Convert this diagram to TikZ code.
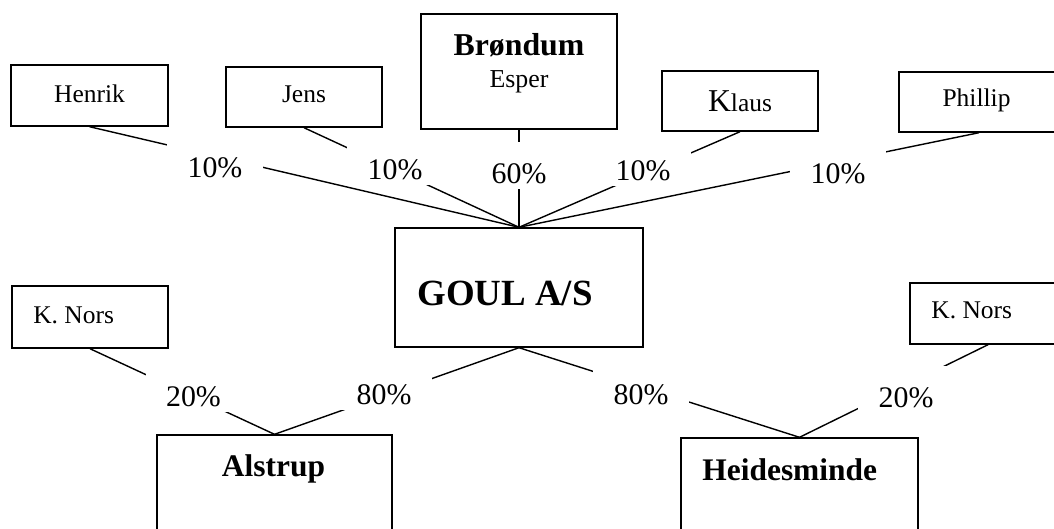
\documentclass[tikz,border=0pt]{standalone}
\usepackage{fontspec}
\setmainfont{Liberation Serif}

\begin{document}
\begin{tikzpicture}[
  cell/.style={draw, line width=0.8pt, inner sep=0pt},
  person/.style={inner sep=0pt, anchor=base, font=\fontsize{14.5}{17}\selectfont},
  firm/.style={inner sep=0pt, anchor=base, font=\fontsize{17.9}{21}\selectfont\bfseries},
  pct/.style={fill=white, inner sep=0pt, minimum width=1.92cm,
    text height=0.82cm, text depth=0.12cm, font=\fontsize{17}{20}\selectfont},
  link/.style={line width=0.8pt}
]
\useasboundingbox (0,0) rectangle (21.08,-10.56);

% Owners
\node[cell, minimum width=3.14cm, minimum height=1.22cm] (henrik) at (1.79,-1.91) {};
\node[cell, minimum width=3.12cm, minimum height=1.20cm] (jens) at (6.08,-1.94) {};
\node[cell, minimum width=3.92cm, minimum height=2.30cm] (brondum) at (10.38,-1.43) {};
\node[cell, minimum width=3.12cm, minimum height=1.20cm] (klaus) at (14.80,-2.02) {};
\node[cell, minimum width=3.20cm, minimum height=1.20cm] (phillip) at (19.58,-2.04) {};

\node[person] (tHenrik) at (1.79,-2.04) {Henrik};
\node[person] (tJens) at (6.08,-2.04) {Jens};
\node[firm, font=\fontsize{18.1}{21}\selectfont\bfseries] (tBrondum) at (10.38,-1.10) {Brøndum};
\node[person, font=\fontsize{14.7}{17}\selectfont] (tEsper) at (10.38,-1.74) {Esper};
\node[person] (tKlaus) at (14.80,-2.23) {{\fontsize{18.1}{21}\selectfont K}laus};
\node[person] (tPhillip) at (19.53,-2.12) {Phillip};

% Holding
\node[cell, minimum width=4.96cm, minimum height=2.38cm] (goul) at (10.38,-5.75) {};
\node[firm, anchor=base west, font=\fontsize{21}{25}\selectfont\bfseries] (tGoul) at (8.34,-6.10) {GOUL A/S};

% Minority owners
\node[cell, minimum width=3.12cm, minimum height=1.24cm] (norsA) at (1.80,-6.34) {};
\node[cell, minimum width=3.12cm, minimum height=1.22cm] (norsB) at (19.76,-6.27) {};
\node[person, anchor=base west] (tNorsA) at (0.66,-6.46) {K. Nors};
\node[person, anchor=base west] (tNorsB) at (18.62,-6.37) {K. Nors};

% Subsidiaries
\node[cell, minimum width=4.70cm, minimum height=2.60cm] (alstrup) at (5.49,-10.00) {};
\node[cell, minimum width=4.74cm, minimum height=2.60cm] (heides) at (15.99,-10.06) {};
\node[firm] (tAlstrup) at (5.47,-9.52) {Alstrup};
\node[firm, anchor=base west] (tHeides) at (14.04,-9.60) {Heidesminde};

% Ownership lines
\foreach \a in {henrik, jens, brondum, klaus, phillip}
  \draw[link] (\a.south) -- (goul.north);
\draw[link] (norsA.south) -- (alstrup.north);
\draw[link] (goul.south) -- (alstrup.north);
\draw[link] (goul.south) -- (heides.north);
\draw[link] (norsB.south) -- (heides.north);

% Shares
\foreach \n/\x/\y/\t in {1/4.30/-3.19/10, 2/7.90/-3.23/10, 3/10.38/-3.31/60,
    4/12.86/-3.25/10, 5/16.76/-3.31/10, 6/3.87/-7.77/20,
    7/7.68/-7.73/80, 8/12.82/-7.73/80, 9/18.12/-7.79/20}
  \node[pct] (p\n) at (\x,\y) {\t\%};
\end{tikzpicture}
\end{document}
